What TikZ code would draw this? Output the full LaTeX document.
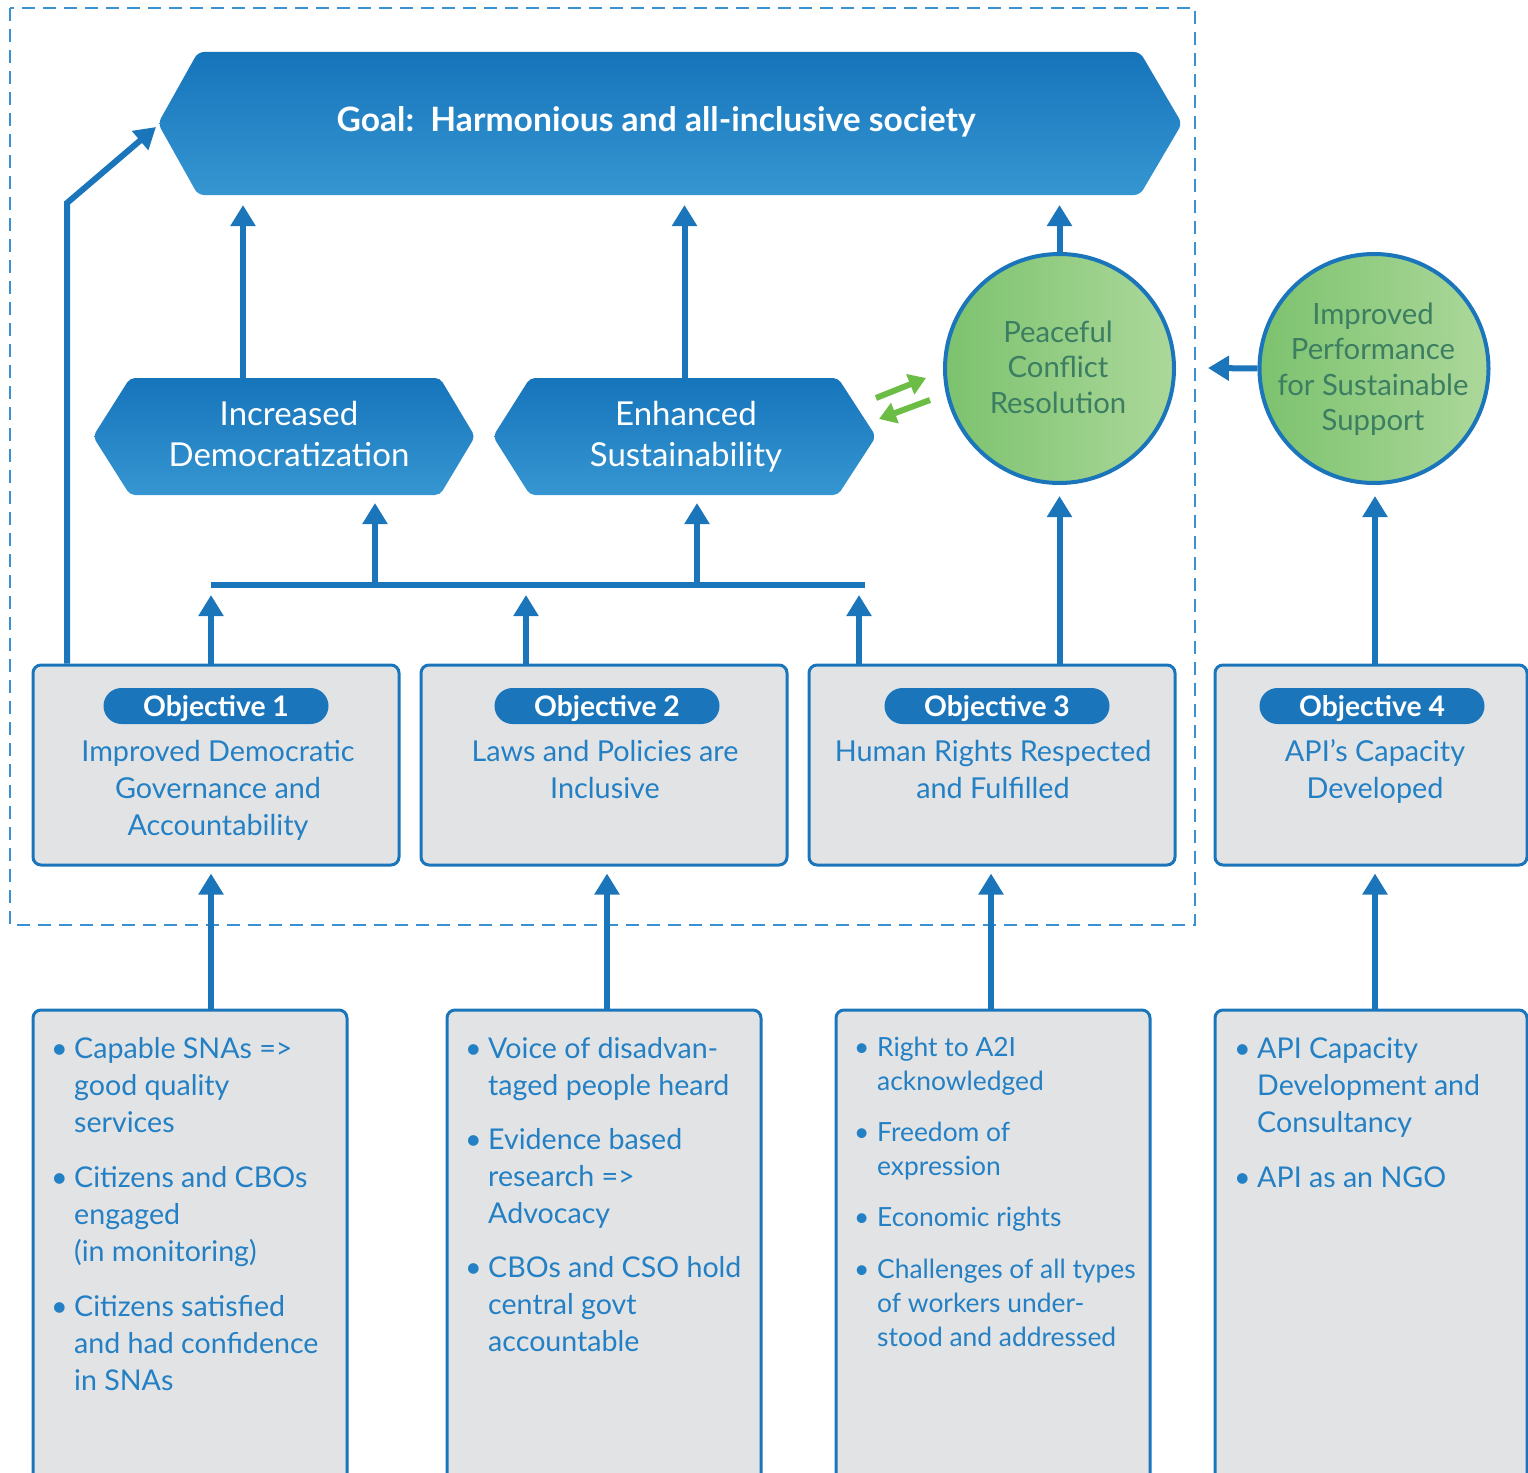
\documentclass[tikz,border=0pt]{standalone}
\usepackage{fontspec}
\setmainfont{Lato}
\usetikzlibrary{arrows.meta,backgrounds,calc}
\definecolor{mblue}{RGB}{27,117,187}
\definecolor{tblue}{RGB}{35,128,196}
\definecolor{dblue}{RGB}{58,146,210}
\definecolor{gtop}{RGB}{22,116,187}
\definecolor{gbot}{RGB}{54,150,209}
\definecolor{boxgrey}{RGB}{226,227,229}
\definecolor{gleft}{RGB}{124,194,110}
\definecolor{gright}{RGB}{172,216,154}
\definecolor{gtext}{RGB}{60,126,98}
\definecolor{agreen}{RGB}{108,189,69}
\newcommand{\mybul}{\makebox[23pt][l]{•}}
\begin{document}
\begin{tikzpicture}[x=1pt,y=-1pt,
  arr/.style={draw=mblue, line width=6pt, -{Triangle[width=24pt,length=21pt]}},
  bar/.style={draw=mblue, line width=6pt},
  garr/.style={draw=agreen, line width=6pt, -{Triangle[width=21pt,length=17pt]}},
  objbox/.style={draw=mblue, line width=3pt, fill=boxgrey, rounded corners=8pt, minimum width=366pt, minimum height=200pt, inner sep=0pt},
  listbox/.style={draw=mblue, line width=3pt, fill=boxgrey, rounded corners=8pt, minimum width=314pt, minimum height=500pt, inner sep=0pt},
  pill/.style={fill=mblue, rounded corners=18pt, minimum width=225pt, minimum height=36pt, inner sep=0pt, text height=21pt, text depth=0.5pt, text=white, font=\bfseries\fontsize{28.3}{32}\selectfont},
  objtxt/.style={text=tblue, font=\fontsize{28.8}{37}\selectfont, inner sep=0pt, anchor=base},
  listtxt/.style={text=tblue, font=\fontsize{28.6}{37}\selectfont, inner sep=0pt, anchor=base west},
  smalllist/.style={text=tblue, font=\fontsize{26.4}{34}\selectfont, inner sep=0pt, anchor=base west},
  hexnode/.style={inner sep=0pt, outer sep=0pt, minimum height=117pt},
  hextxt/.style={text=white, font=\fontsize{33}{41}\selectfont, inner sep=0pt, anchor=base},
  hexfill/.style={top color=gtop, bottom color=gbot, rounded corners=5pt},
  bubble/.style={circle, draw=mblue, line width=4pt, minimum size=229pt, left color=gleft, right color=gright, inner sep=0pt},
  bubtxt/.style={text=gtext, font=\fontsize{29.3}{35.5}\selectfont, inner sep=0pt, anchor=base},
  border/.style={draw=dblue, line width=2.2pt, dash pattern=on 13pt off 8pt}
]
\useasboundingbox (0,0) rectangle (1528,1472);

% dashed boundary
\draw[border] (10,8) rectangle (1195,925);

% goal
\node[hexnode, minimum width=1024pt, minimum height=143pt] (goal) at (670,123.5) {};
\begin{pgfonlayer}{background}
\shade[hexfill, rounded corners=6pt] (goal.west) -- ([xshift=40pt]goal.north west) -- ([xshift=-42pt]goal.north east) -- (goal.east) -- ([xshift=-42pt]goal.south east) -- ([xshift=40pt]goal.south west) -- cycle;
\end{pgfonlayer}
\node[text=white, font=\bfseries\fontsize{33.6}{38}\selectfont, inner sep=0pt, anchor=base] (goaltxt) at (656,131) {Goal:\ \ Harmonious and all-inclusive society};

% intermediate hexagons
\node[hexnode, minimum width=382pt] (dem) at (284,436.5) {};
\node[hexnode, minimum width=383pt] (sus) at (684.5,436.5) {};
\begin{pgfonlayer}{background}
\shade[hexfill] (dem.west) -- ([xshift=37pt]dem.north west) -- ([xshift=-35pt]dem.north east) -- (dem.east) -- ([xshift=-35pt]dem.south east) -- ([xshift=37pt]dem.south west) -- cycle;
\shade[hexfill] (sus.west) -- ([xshift=37pt]sus.north west) -- ([xshift=-38pt]sus.north east) -- (sus.east) -- ([xshift=-38pt]sus.south east) -- ([xshift=37pt]sus.south west) -- cycle;
\end{pgfonlayer}
\node[hextxt] (demtxt) at (289,425) {\begin{tabular}[t]{@{}c@{}}Increased\\Democratization\end{tabular}};
\node[hextxt] (sustxt) at (686,425) {\begin{tabular}[t]{@{}c@{}}Enhanced\\Sustainability\end{tabular}};

% bubbles
\node[bubble] (circ1) at (1059.5,368.5) {};
\node[bubble] (circ2) at (1374,368.5) {};
\node[bubtxt] (c1txt) at (1058,342) {\begin{tabular}[t]{@{}c@{}}Peaceful\\Conflict\\Resolution\end{tabular}};
\node[bubtxt] (c2txt) at (1373,324) {\begin{tabular}[t]{@{}c@{}}Improved\\Performance\\for Sustainable\\Support\end{tabular}};

% objective boxes
\node[objbox] (obj1) at (216,765) {};
\node[objbox] (obj2) at (604,765) {};
\node[objbox] (obj3) at (992,765) {};
\node[objbox, minimum width=312pt] (obj4) at (1371,765) {};
\node[pill] (p1) at (216,706) {Objective 1};
\node[pill] (p2) at (607,706) {Objective 2};
\node[pill] (p3) at (997,706) {Objective 3};
\node[pill] (p4) at (1372,706) {Objective 4};
\node[objtxt] (o1txt) at (218,761) {\begin{tabular}[t]{@{}c@{}}Improved Democratic\\Governance and\\Accountability\end{tabular}};
\node[objtxt] (o2txt) at (605,761) {\begin{tabular}[t]{@{}c@{}}Laws and Policies are\\Inclusive\end{tabular}};
\node[objtxt] (o3txt) at (993,761) {\begin{tabular}[t]{@{}c@{}}Human Rights Respected\\and Fulfilled\end{tabular}};
\node[objtxt] (o4txt) at (1375,761) {\begin{tabular}[t]{@{}c@{}}API’s Capacity\\Developed\end{tabular}};

% bottom boxes
\node[listbox] (b1) at (190,1260) {};
\node[listbox] (b2) at (604,1260) {};
\node[listbox] (b3) at (993,1260) {};
\node[listbox, minimum width=312pt] (b4) at (1371,1260) {};
\node[listtxt] (l1) at (51,1058) {\begin{tabular}[t]{@{}l@{}l@{}}
\mybul & Capable SNAs =>\\ & good quality\\ & services\\[18pt]
\mybul & Citizens and CBOs\\ & engaged\\ & (in monitoring)\\[18pt]
\mybul & Citizens satisfied\\ & and had confidence\\ & in SNAs\end{tabular}};
\node[listtxt] (l2) at (465,1058) {\begin{tabular}[t]{@{}l@{}l@{}}
\mybul & Voice of disadvan-\\ & taged people heard\\[17pt]
\mybul & Evidence based\\ & research =>\\ & Advocacy\\[17pt]
\mybul & CBOs and CSO hold\\ & central govt\\ & accountable\end{tabular}};
\node[smalllist] (l3) at (854,1056) {\begin{tabular}[t]{@{}l@{}l@{}}
\makebox[23pt][l]{•} & Right to A2I\\ & acknowledged\\[17pt]
\makebox[23pt][l]{•} & Freedom of\\ & expression\\[17pt]
\makebox[23pt][l]{•} & Economic rights\\[18pt]
\makebox[23pt][l]{•} & Challenges of all types\\ & of workers under-\\ & stood and addressed\end{tabular}};
\node[listtxt] (l4) at (1234,1058) {\begin{tabular}[t]{@{}l@{}l@{}}
\mybul & API Capacity\\ & Development and\\ & Consultancy\\[18pt]
\mybul & API as an NGO\end{tabular}};

% connector coordinates
\coordinate (busL) at (211,585);
\coordinate (busR) at (865,585);
\coordinate (bd) at (375,585);
\coordinate (bs) at (697,585);
\coordinate (bx2) at (526,585);
\coordinate (bx3) at (859,585);
\coordinate (lc) at (67,203);
\coordinate (lt) at (156,127);
\coordinate (up2) at (607,0);
\coordinate (up3) at (991,0);
\coordinate (up4) at (1375,0);
\coordinate (c2l) at (1208,368);
\coordinate (ga1) at (876,398);
\coordinate (ga2) at (926,378);
\coordinate (gb1) at (930,400);
\coordinate (gb2) at (879,419);

% bus
\draw[bar] (busL) -- (busR);
\draw[arr, shorten >=10pt] (busL |- obj1.north) -- (busL);
\draw[arr, shorten >=10pt] (bx2 |- obj2.north) -- (bx2);
\draw[arr, shorten >=10pt] (bx3 |- obj3.north) -- (bx3);
\draw[arr, shorten >=8pt] (bd) -- (bd |- dem.south);
\draw[arr, shorten >=8pt] (bs) -- (bs |- sus.south);

% up to goal
\draw[arr, shorten >=10pt] ([xshift=-41pt]dem.north) -- ([xshift=-41pt]dem.north |- goal.south);
\draw[arr, shorten >=10pt] (sus.north) -- (sus.north |- goal.south);
\draw[arr, shorten >=10pt] (circ1.north) -- (circ1.north |- goal.south);
\draw[arr] (lc |- obj1.north) -- (lc) -- (lt);

% objectives to bubbles
\draw[arr, shorten >=11pt] (circ1.south |- obj3.north) -- (circ1.south);
\draw[arr, shorten >=11pt] (up4 |- obj4.north) -- (up4 |- circ2.south);
\draw[arr] (circ2.west) -- (c2l);

% green exchange arrows
\draw[garr] (ga1) -- (ga2);
\draw[garr] (gb1) -- (gb2);

% results to objectives
\draw[arr, shorten >=7pt] (busL |- b1.north) -- (busL |- obj1.south);
\draw[arr, shorten >=7pt] (up2 |- b2.north) -- (up2 |- obj2.south);
\draw[arr, shorten >=7pt] (up3 |- b3.north) -- (up3 |- obj3.south);
\draw[arr, shorten >=7pt] (up4 |- b4.north) -- (up4 |- obj4.south);
\end{tikzpicture}
\end{document}
